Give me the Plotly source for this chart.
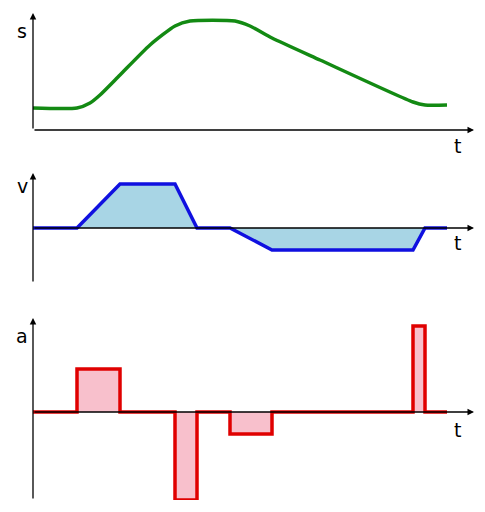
import plotly.graph_objects as go
from plotly.subplots import make_subplots

W, H = 485, 512
OFF = 8  # page body margin in the browser

# position profile (t, s)
t_s = [0, 44, 57, 67, 87, 117, 142, 157, 202, 217, 239, 287, 380, 392, 414]
s = [22, 22, 27, 35, 55, 85, 104, 109, 109, 104, 92, 70, 28, 25, 25]

# velocity profile
t_v = [0, 44, 87, 142, 164, 197, 239, 380, 392, 414]
v = [0, 0, 44, 44, 0, 0, -22, -22, 0, 0]

# acceleration profile (step)
t_a = [0, 44, 87, 142, 164, 197, 239, 380, 392, 414]
a = [0, 43, 0, -88, 0, -22, 0, 86, 0, 0]

fig = make_subplots(rows=3, cols=1)

def dom(top, bot):
    return [1 - (bot - OFF) / H, 1 - (top - OFF) / H]

fig.add_trace(go.Scatter(x=t_s, y=s, mode="lines", line=dict(color="#138a13", width=3.5, shape="spline", smoothing=0.6)), 1, 1)
fig.add_trace(go.Scatter(x=t_v, y=v, mode="lines", fill="tozeroy", fillcolor="#a8d5e5",
                         line=dict(color="#1010e0", width=3.5)), 2, 1)
fig.add_trace(go.Scatter(x=t_a, y=a, mode="lines", fill="tozeroy", fillcolor="#f8c0cc",
                         line=dict(color="#e00000", width=3.5, shape="hv")), 3, 1)

xr = [-33 + OFF, W - 33 + OFF]
for i, (top, bot, yr) in enumerate([(15, 130, [0, 115]), (175, 283, [-55, 53]), (320, 500, [-88, 92])], 1):
    fig.update_xaxes(range=xr, visible=False, domain=[0, 1], row=i, col=1)
    fig.update_yaxes(range=yr, visible=False, domain=dom(top, bot), row=i, col=1)

def arrow(hx, hy, tx, ty):
    fig.add_annotation(x=(hx - OFF) / W, y=1 - (hy - OFF) / H, xref="paper", yref="paper", ax=tx - hx, ay=ty - hy,
                       showarrow=True, arrowhead=2, arrowsize=1, arrowwidth=1.3, arrowcolor="black", text="")

def label(txt, px, py):
    fig.add_annotation(x=(px - OFF) / W, y=1 - (py - OFF) / H, xref="paper", yref="paper", text=txt, showarrow=False,
                       xanchor="center", yanchor="middle",
                       font=dict(size=19, color="black", family="DejaVu Sans"))

arrow(33, 13, 33, 130); arrow(474, 130, 33, 130)
arrow(33, 173, 33, 283); arrow(474, 228, 33, 228)
arrow(33, 318, 33, 500); arrow(474, 412, 33, 412)
label("s", 22, 31); label("t", 457, 146)
label("v", 22, 186); label("t", 457, 243)
label("a", 22, 336); label("t", 457, 430)

fig.update_layout(width=W, height=H, margin=dict(l=0, r=0, t=0, b=0), showlegend=False,
                  plot_bgcolor="white", paper_bgcolor="white")
fig.write_html("out.html")
